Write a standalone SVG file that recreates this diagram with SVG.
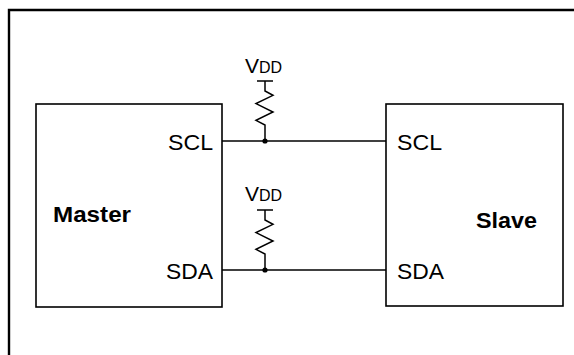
<svg xmlns="http://www.w3.org/2000/svg" width="574" height="355" viewBox="0 0 574 355">
<style>
.frame{fill:none;stroke:#000;stroke-width:2.4}
.box{fill:#fff;stroke:#000;stroke-width:1.6}
.wire{fill:none;stroke:#000;stroke-width:1.5}
.lbl{font-family:"Liberation Sans",Arial,sans-serif;font-size:21.5px;fill:#000}
.big{font-family:"Liberation Sans",Arial,sans-serif;font-size:22px;font-weight:bold;fill:#000}
.vdd{font-family:"Liberation Sans",Arial,sans-serif;font-size:21px;fill:#000}
.sub{font-size:16px}
</style>
<defs>
<g id="pullup">
<path class="wire" d="M257,0 H273 M265,0 V10 L273,14.3 L256,22.6 L273,31 L256,39.3 L265,44 V60"/>
</g>
</defs>
<path class="frame" d="M9,355 V10 H574"/>
<g id="master">
<rect class="box" x="36" y="104" width="186" height="203"/>
<text class="big" x="53" y="222" textLength="78" lengthAdjust="spacingAndGlyphs">Master</text>
<text class="lbl" x="168" y="150" textLength="45" lengthAdjust="spacingAndGlyphs">SCL</text>
<text class="lbl" x="166" y="279" textLength="47" lengthAdjust="spacingAndGlyphs">SDA</text>
</g>
<g id="slave">
<rect class="box" x="386" y="104" width="177" height="202"/>
<text class="big" x="476" y="228" textLength="61" lengthAdjust="spacingAndGlyphs">Slave</text>
<text class="lbl" x="397" y="150" textLength="45" lengthAdjust="spacingAndGlyphs">SCL</text>
<text class="lbl" x="397" y="279" textLength="47" lengthAdjust="spacingAndGlyphs">SDA</text>
</g>
<g id="pullup-scl">
<text class="vdd" x="245" y="72.5">V<tspan class="sub">DD</tspan></text>
<use href="#pullup" transform="translate(0,81)"/>
</g>
<g id="pullup-sda">
<text class="vdd" x="245" y="201">V<tspan class="sub">DD</tspan></text>
<use href="#pullup" transform="translate(0,210)"/>
</g>
<g id="connectors">
<line class="wire" x1="222" y1="141" x2="386" y2="141"/>
<line class="wire" x1="222" y1="270" x2="386" y2="270"/>
<circle cx="265" cy="141" r="2.6" fill="#000"/>
<circle cx="265" cy="270" r="2.6" fill="#000"/>
</g>
</svg>
